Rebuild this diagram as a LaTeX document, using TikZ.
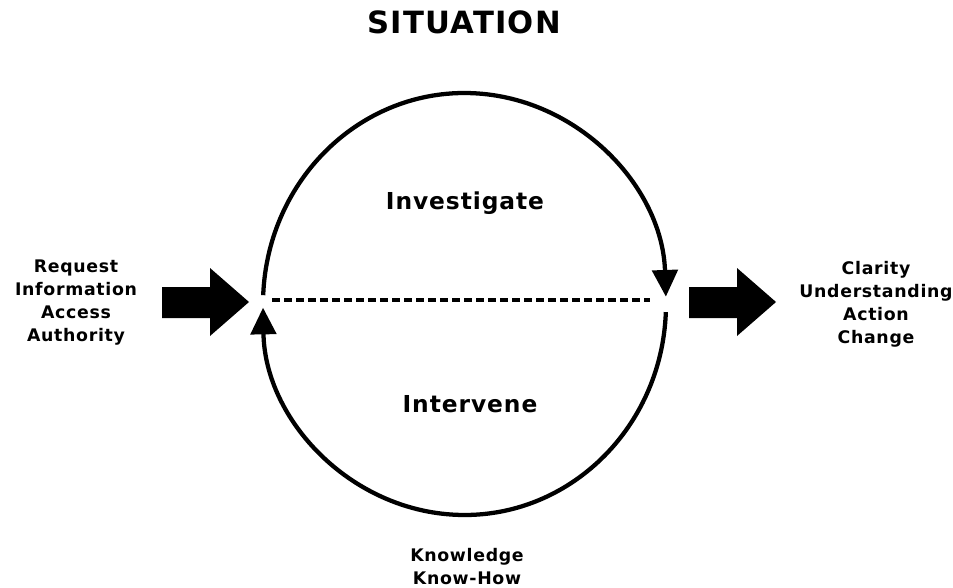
\documentclass[tikz,border=0pt]{standalone}
\usepackage{fontspec}
\setmainfont{DejaVu Sans}[LetterSpace=4]
\usetikzlibrary{arrows.meta}
\begin{document}
\begin{tikzpicture}[x=.75pt,y=-.75pt,
		ring/.style={line width=3.2pt,-{Triangle[length=20pt,width=19pt]}},
		divider/.style={line width=2.3pt,dash pattern=on 6pt off 3pt},
		bigtxt/.style={font=\fontsize{23}{27}\selectfont\bfseries},
		midtxt/.style={font=\fontsize{17.5}{21}\selectfont\bfseries},
		sidetxt/.style={font=\fontsize{13}{17.25}\selectfont\bfseries,align=center,inner sep=0}]
	\useasboundingbox (0,0) rectangle (953,588);
	\def\rx{201.5}
	\def\ry{211}
	\path
	(464.5,304) coordinate (O)
	(272,300) coordinate (M1) (650,300) coordinate (M2)
	;
	% the loop, top half then bottom half
	\draw[ring] (O) ++(182.4:{\rx} and {\ry}) arc[start angle=182.4,end angle=358,x radius=\rx,y radius=\ry];
	\draw[ring] (O) ++(2.2:{\rx} and {\ry}) arc[start angle=2.2,end angle=179,x radius=\rx,y radius=\ry];
	\draw[divider] (M1)--(M2);
	% block arrows in and out
	\foreach \s in {162,689} \fill (\s,287) -- ++(48,0) -- ++(0,-19) -- ++(39,34) -- ++(-39,34) -- ++(0,-18) -- ++(-48,0) -- cycle;
	\node[bigtxt] (sit) at (464,22) {SITUATION};
	\node[midtxt] (inv) at (465,203) {Investigate};
	\node[midtxt] (int) at (470,404) {Intervene};
	\node[sidetxt] (inp) at (76,302.5) {Request\\Information\\Access\\Authority};
	\node[sidetxt] (out) at (876,304.5) {Clarity\\Understanding\\Action\\Change};
	\node[sidetxt] (kno) at (467,567) {Knowledge\\Know-How};
\end{tikzpicture}
\end{document}
